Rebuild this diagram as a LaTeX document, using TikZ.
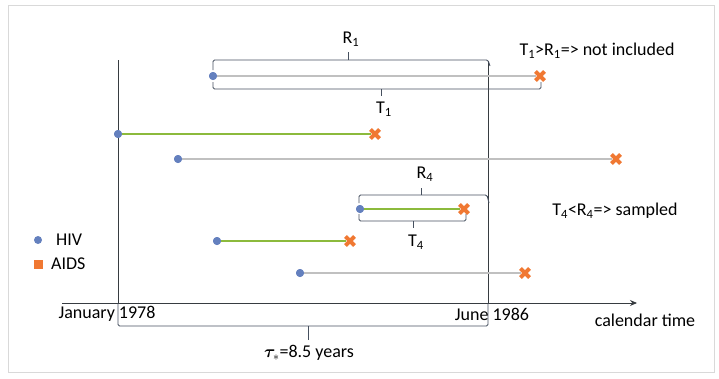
\documentclass[tikz,border=0pt]{standalone}
\usepackage{fontspec}
\setmainfont{Carlito}
\usepackage{amsmath}
\usepackage{bm}
\usetikzlibrary{arrows.meta,shapes.misc}
\definecolor{hivblue}{RGB}{100,128,190}
\definecolor{aidsorange}{RGB}{240,120,50}
\definecolor{tlgreen}{RGB}{140,186,60}
\definecolor{tlgray}{RGB}{192,192,192}
\definecolor{axisgray}{RGB}{55,60,65}
\definecolor{brk}{RGB}{70,80,95}
\begin{document}
\begin{tikzpicture}[x=1pt,y=-1pt,
  hiv/.style={circle,fill=hivblue,inner sep=0pt,minimum size=8pt},
  aids/.style={cross out,draw=aidsorange,line width=3.8pt,inner sep=0pt,minimum size=5pt},
  aidsleg/.style={rectangle,fill=aidsorange,inner sep=0pt,minimum size=9pt},
  grayline/.style={draw=tlgray,line width=2.6pt},
  greenline/.style={draw=tlgreen,line width=2.6pt},
  bracket/.style={draw=brk,line width=0.9pt,rounded corners=1.5pt},
  vline/.style={draw=axisgray,line width=0.9pt},
  lbl/.style={font=\fontsize{18}{20}\selectfont,inner sep=0pt}
]
\useasboundingbox (0,0) rectangle (719,378);
\draw[draw=black!15,line width=1pt] (8,5) rectangle (714,372);

% axis and verticals
\coordinate (axL) at (62,303);
\coordinate (axR) at (637,303);
\draw[vline,-{Stealth[length=7pt,width=6pt]}] (axL) -- (axR);
\coordinate (vLt) at (118,60);
\coordinate (vLb) at (118,303);
\coordinate (vRt) at (488,62);
\coordinate (vRb) at (488,303);
\draw[vline] (vLt) -- (vLb);
\draw[vline] (vRt) -- (vRb);

% timelines
\node[hiv] (h1) at (213,76) {};
\node[aids] (a1) at (540,76) {};
\draw[grayline] (h1) -- (a1);
\node[hiv] (h2) at (118,134) {};
\node[aids] (a2) at (375,134) {};
\draw[greenline] (h2) -- (a2);
\node[hiv] (h3) at (178,159) {};
\node[aids] (a3) at (616,159) {};
\draw[grayline] (h3) -- (a3);
\node[hiv] (h4) at (360,209) {};
\node[aids] (a4) at (464,209) {};
\draw[greenline] (h4) -- (a4);
\node[hiv] (h5) at (217,241) {};
\node[aids] (a5) at (350,241) {};
\draw[greenline] (h5) -- (a5);
\node[hiv] (h6) at (300,273) {};
\node[aids] (a6) at (525,273) {};
\draw[grayline] (h6) -- (a6);
\foreach \n in {1,...,6} {\node[hiv] at (h\n) {}; \node[aids] at (a\n) {};}

% brackets
\draw[bracket] (213,70) -- (213,60) -- (488,60) -- (490,66);
\draw[bracket] (348,60) -- (348,52);
\node[lbl] (R1) at (351,39) {R$_{\text{1}}$};
\draw[bracket] (213,82) -- (213,89) -- (541,89) -- (541,82);
\draw[bracket] (381,89) -- (381,96);
\node[lbl] (T1) at (384,109) {T$_{\text{1}}$};

\draw[bracket] (359,203) -- (359,195) -- (487,195) -- (489,203);
\draw[bracket] (421,195) -- (421,188);
\node[lbl] (R4) at (425,174) {R$_{\text{4}}$};
\draw[bracket] (359,214) -- (359,221) -- (466,221) -- (466,214);
\draw[bracket] (413,221) -- (413,228);
\node[lbl] (T4) at (416,242) {T$_{\text{4}}$};

\draw[bracket] (118,303) -- (118,326) -- (488,326) -- (488,303);
\draw[bracket] (308,326) -- (308,340);
\node[lbl] (tau) at (309,353) {$\bm{\tau}_{*}$=8.5 years};

% annotations
\node[lbl] (n1) at (597,51) {T$_{\text{1}}$>R$_{\text{1}}$=> not included};
\node[lbl] (n4) at (615,211) {T$_{\text{4}}$<R$_{\text{4}}$=> sampled};
\node[lbl] (jan) at (107,314) {January 1978};
\node[lbl] (jun) at (492,314) {June 1986};
\node[lbl] (cal) at (645,320) {calendar time};

% legend
\node[hiv] (lh) at (38,240) {};
\node[lbl,anchor=west] (lhiv) at (56,240) {HIV};
\node[aidsleg] (la) at (38,264) {};
\node[lbl,anchor=west] (laids) at (51,264) {AIDS};
\end{tikzpicture}
\end{document}
